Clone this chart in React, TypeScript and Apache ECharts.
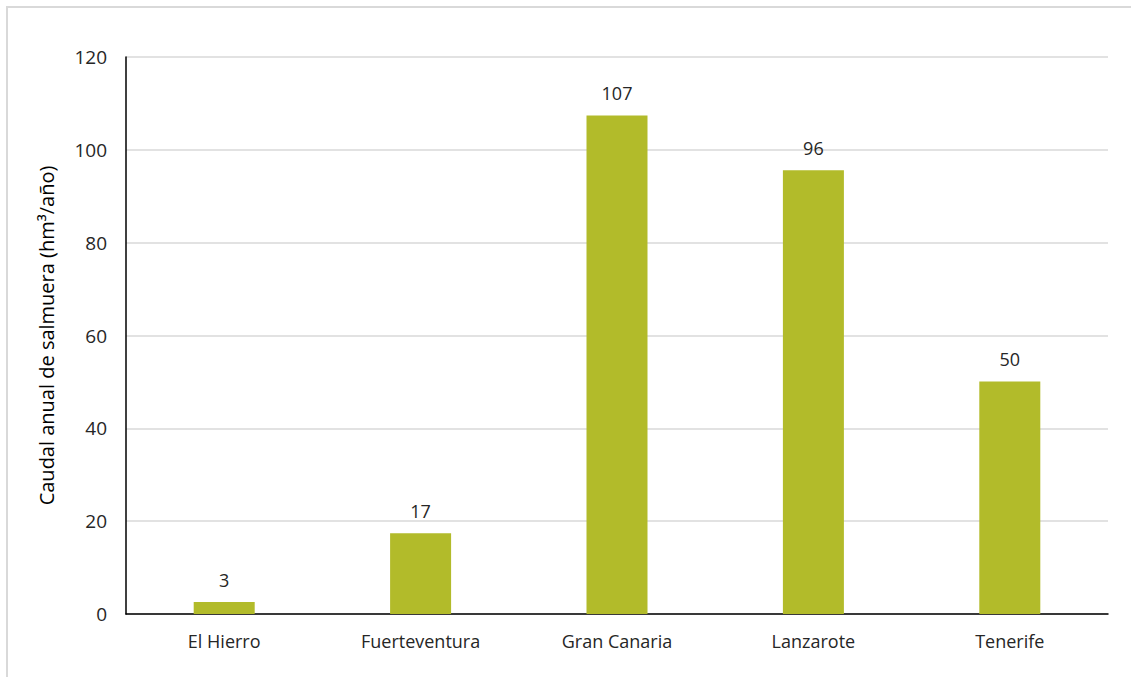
import React, { useEffect, useRef } from "react";
import * as echarts from "echarts";

const categories = ["El Hierro", "Fuerteventura", "Gran Canaria", "Lanzarote", "Tenerife"];
const values = [2.6, 17.4, 107.4, 95.6, 50.1];
const yTicks = { min: 0, max: 120, interval: 20 };
const yAxisTitle = "Caudal anual de salmuera (hm³/año)";

export default function App() {
  const ref = useRef<HTMLDivElement>(null);
  useEffect(() => {
    const chart = echarts.init(ref.current!, undefined, { renderer: "svg" });
    const font = "'Open Sans', 'Noto Sans', sans-serif";
    chart.setOption({
      animation: false,
      backgroundColor: "#ffffff",
      textStyle: { fontFamily: font },
      graphic: [
        {
          type: "rect",
          shape: { x: 7, y: 7, width: 1150, height: 700 },
          style: { fill: "none", stroke: "#d9d9d9", lineWidth: 2 },
          silent: true,
        },
      ],
      grid: { left: 126, right: 23, top: 57, bottom: 63 },
      xAxis: {
        type: "category",
        data: categories,
        axisLine: { lineStyle: { color: "#000", width: 1.5 } },
        axisTick: { show: false },
        axisLabel: { color: "#262626", fontSize: 18, margin: 18, fontFamily: font },
      },
      yAxis: {
        type: "value",
        min: yTicks.min,
        max: yTicks.max,
        interval: yTicks.interval,
        name: yAxisTitle,
        nameLocation: "middle",
        nameGap: 70,
        nameTextStyle: { color: "#000", fontSize: 20, fontFamily: font },
        axisLine: { show: true, lineStyle: { color: "#000", width: 1.5 } },
        axisTick: { show: false },
        axisLabel: { color: "#262626", fontSize: 19, margin: 19, fontFamily: font },
        splitLine: { lineStyle: { color: "#d9d9d9", width: 1.5 } },
      },
      series: [
        {
          type: "bar",
          data: values,
          barWidth: 61,
          itemStyle: { color: "#B2BB2A" },
          label: {
            show: true,
            position: "top",
            distance: 13,
            color: "#262626",
            fontSize: 18,
            fontFamily: font,
            formatter: (p: any) => String(Math.round(p.value)),
          },
        },
      ],
    });
    return () => chart.dispose();
  }, []);
  return (
    <div
      ref={ref}
      style={{ position: "fixed", left: 0, top: 0, width: 1131, height: 677 }}
    />
  );
}
